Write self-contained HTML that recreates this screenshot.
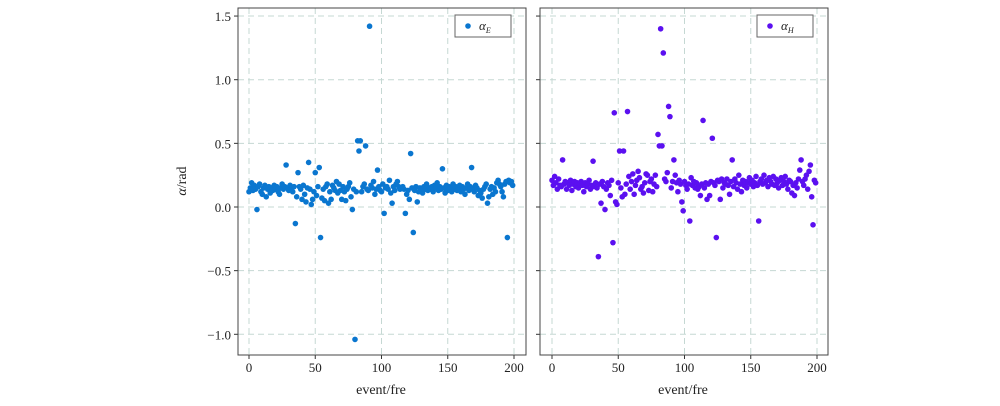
<!DOCTYPE html>
<html><head><meta charset="utf-8"><style>
body{margin:0;background:#fff;}
svg{display:block;font-family:"Liberation Serif",serif;}
</style></head><body>
<svg id="chart" width="1000" height="406"></svg>
<script>
const xTicks=[0,50,100,150,200];
const yTicks=[1.5,1.0,0.5,0.0,-0.5,-1.0];
const yTickLabels=["1.5","1.0","0.5","0.0","\u22120.5","\u22121.0"];
const seriesE=[
0.12,0.15,0.19,0.13,0.17,0.14,-0.02,0.16,0.18,0.12,0.10,0.15,0.17,0.08,0.14,0.16,0.11,0.15,0.13,0.17,
0.14,0.16,0.12,0.10,0.15,0.18,0.14,0.16,0.33,0.15,0.13,0.17,0.15,0.12,0.16,-0.13,0.08,0.27,0.16,0.14,
0.06,0.17,0.10,0.04,0.15,0.35,0.14,0.02,0.06,0.12,0.27,0.09,0.16,0.31,-0.24,0.07,0.14,0.05,0.16,0.18,
0.03,0.12,0.06,0.17,0.15,0.13,0.20,0.11,0.18,0.13,0.06,0.16,0.12,0.05,0.14,0.16,0.19,0.08,-0.02,0.14,
-1.04,0.12,0.52,0.44,0.52,0.12,0.16,0.18,0.48,0.14,0.13,1.42,0.17,0.15,0.20,0.10,0.14,0.29,0.16,0.13,
0.12,0.18,-0.05,0.15,0.16,0.14,0.21,0.11,0.03,0.16,0.13,0.18,0.20,0.16,0.14,0.15,0.16,0.14,-0.05,0.10,
0.13,0.06,0.42,0.15,-0.20,0.13,0.16,0.04,0.12,0.15,0.14,0.11,0.16,0.14,0.18,0.13,0.15,0.14,0.16,0.12,
0.17,0.15,0.19,0.13,0.16,0.14,0.30,0.15,0.11,0.17,0.13,0.16,0.15,0.12,0.18,0.14,0.16,0.13,0.15,0.17,
0.12,0.16,0.14,0.10,0.15,0.18,0.13,0.16,0.31,0.14,0.12,0.17,0.15,0.09,0.13,0.11,0.07,0.14,0.16,0.18,
0.03,0.08,0.14,0.16,0.10,0.15,0.12,0.19,0.21,0.18,
0.16,0.12,0.08,0.18,0.20,-0.24,0.21,0.19,0.20,0.17];
const seriesH=[
0.21,0.17,0.24,0.19,0.14,0.22,0.17,0.16,0.37,0.18,0.20,0.14,0.19,0.17,0.21,0.13,0.18,0.20,0.16,0.19,
0.15,0.18,0.20,0.17,0.12,0.19,0.16,0.18,0.21,0.14,0.17,0.36,0.16,0.19,0.15,-0.39,0.18,0.03,0.20,0.16,
-0.02,0.14,0.19,0.17,0.09,0.21,-0.28,0.74,0.04,0.02,0.19,0.44,0.15,0.08,0.44,0.10,0.18,0.75,0.24,0.14,
0.20,0.26,0.10,0.17,0.21,0.28,0.23,0.14,0.16,0.11,0.19,0.26,0.25,0.13,0.20,0.22,0.12,0.18,0.25,0.16,
0.57,0.48,1.40,0.48,1.21,0.22,0.20,0.27,0.79,0.71,0.15,0.20,0.37,0.25,0.19,0.12,0.21,0.18,0.04,-0.03,
0.20,0.17,0.14,0.18,-0.11,0.23,0.17,0.20,0.15,0.19,0.14,0.16,0.09,0.18,0.68,0.15,0.19,0.06,0.18,0.09,
0.20,0.54,0.19,0.17,-0.24,0.21,0.20,0.06,0.22,0.15,0.19,0.18,0.22,0.17,0.10,0.20,0.37,0.16,0.22,0.19,
0.14,0.25,0.18,0.12,0.21,0.17,0.20,0.15,0.19,0.23,0.18,0.21,0.16,0.19,0.24,0.17,-0.11,0.20,0.22,0.18,
0.25,0.19,0.21,0.16,0.23,0.20,0.18,0.24,0.17,0.22,0.19,0.15,0.21,0.23,0.17,0.20,0.24,0.18,0.14,0.21,
0.20,0.11,0.17,0.09,0.19,0.15,0.22,0.29,0.37,0.20,
0.17,0.22,0.25,0.14,0.28,0.33,0.08,-0.14,0.21,0.19];
</script>
<script>
const NS="http://www.w3.org/2000/svg";
const svg=document.getElementById('chart');
function mk(tag,attrs,parent){const e=document.createElementNS(NS,tag);for(const k in attrs)e.setAttribute(k,attrs[k]);(parent||svg).appendChild(e);return e;}
const yScale=v=>207-v*127.3;
const panels=[{left:238,right:526,x0:249,data:seriesE,color:"#0a76cf",label:"E",showY:true,name:"alpha-e"},
              {left:540,right:828,x0:552,data:seriesH,color:"#5b10f0",label:"H",showY:false,name:"alpha-h"}];
const plotTop=8,plotBottom=355;
panels.forEach(p=>{
  const xScale=v=>p.x0+v*1.325;
  const g=mk('g',{});
  
  
  yTicks.forEach((t,i)=>{
    const y=yScale(t);
    const l=mk('line',{x1:p.left,x2:p.right,y1:y,y2:y,stroke:"#c5d8d3","stroke-dasharray":"6,4","stroke-width":1},g);
    
    
    mk('line',{x1:p.left,x2:p.left-4,y1:y,y2:y,stroke:"#333"},g);
    if(p.showY){
      const tx=mk('text',{x:p.left-7,y:y+5,"text-anchor":"end","font-size":13,fill:"#222"},g);
      tx.textContent=yTickLabels[i];
      
      
    }
  });
  xTicks.forEach(t=>{
    const x=xScale(t);
    const l=mk('line',{x1:x,x2:x,y1:plotTop,y2:plotBottom,stroke:"#c5d8d3","stroke-dasharray":"6,4","stroke-width":1},g);
    
    
    mk('line',{x1:x,x2:x,y1:plotBottom,y2:plotBottom+4,stroke:"#333"},g);
    const tx=mk('text',{x:x,y:plotBottom+17,"text-anchor":"middle","font-size":13,fill:"#222"},g);
    tx.textContent=t;
    
    
  });
  p.data.forEach((v,i)=>{
    const c=mk('circle',{cx:xScale(i),cy:yScale(v),r:2.8,fill:p.color},g);
    
    
  });
  const fr=mk('rect',{x:p.left,y:plotTop,width:p.right-p.left,height:plotBottom-plotTop,fill:"none",stroke:"#444","stroke-width":1},g);
  
  
  const lg=mk('g',{},g);
  
  
  mk('rect',{x:p.right-71,y:15,width:56,height:22,fill:"#fff",stroke:"#666"},lg);
  mk('circle',{cx:p.right-58,cy:26,r:2.8,fill:p.color},lg);
  const lt=mk('text',{x:p.right-47,y:30,"font-size":13,"font-style":"italic",fill:"#222"},lg);
  lt.innerHTML='α<tspan font-size="8" dy="3">'+p.label+'</tspan>';
  const xl=mk('text',{x:(p.left+p.right)/2-1,y:394,"text-anchor":"middle","font-size":14,fill:"#222"},g);
  xl.textContent='event/fre';
  
  
});
const yl=mk('text',{x:0,y:0,transform:"translate(186,181) rotate(-90)","text-anchor":"middle","font-size":14,fill:"#222"});
yl.innerHTML='<tspan font-style="italic">α</tspan>/rad';


</script>
</body></html>
